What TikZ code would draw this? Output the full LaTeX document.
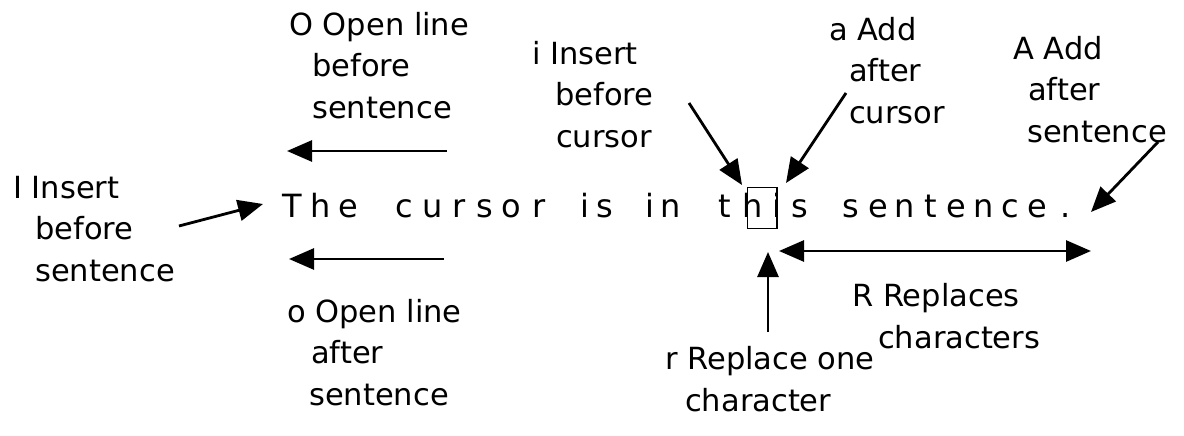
\documentclass[tikz,border=0pt]{standalone}
\usepackage{fontspec}
\setmainfont{DejaVu Sans}
\usetikzlibrary{arrows.meta}
\newcommand\cel[2]{\makebox[#1pt]{#2}}
\begin{document}
\begin{tikzpicture}[x=1pt,y=-1pt,
  lbl/.style={anchor=base west,inner sep=0pt,align=left,
    font={\fontsize{30.5}{41.5}\selectfont}},
  word/.style={anchor=base west,inner sep=0pt,
    font={\fontsize{32}{36}\selectfont}},
  arr/.style={line width=2.8pt,-{Triangle[length=25pt,width=21pt]}},
  darr/.style={line width=2.8pt,{Triangle[length=25pt,width=21pt]}-{Triangle[length=25pt,width=21pt]}},
  curbox/.style={draw,line width=1.8pt,inner sep=0pt}]
\useasboundingbox (0,0) rectangle (1184,436);
% sentence
\node[word] (w1) at (277.25,217.5) {\cel{29.5}{T}\cel{28.25}{h}\cel{27}{e}};
\node[word] (w2) at (390.5,217.5) {\cel{28}{c}\cel{27.75}{u}\cel{25.5}{r}\cel{25.75}{s}\cel{27.75}{o}\cel{27.5}{r}};
\node[word] (w3) at (574.25,217.5) {\cel{20.5}{i}\cel{20.5}{s}};
\node[word] (w4) at (639.25,217.5) {\cel{20.5}{i}\cel{20.5}{n}};
\node[word] (w5) at (709.5,217.5) {\cel{30.75}{t}\cel{25}{h}\cel{22.25}{i}\cel{25}{s}};
\node[word] (w6) at (837.25,217.5) {\cel{27.5}{s}\cel{27}{e}\cel{25.75}{n}\cel{25.75}{t}\cel{26.75}{e}\cel{26.75}{n}\cel{26.5}{c}\cel{27.75}{e}\cel{29}{.}};
% cursor box
\node[curbox,minimum width=29.5pt,minimum height=41pt] (cur) at (762.25,208) {};
% labels (anchor = baseline of last line)
\node[lbl] (lO) at (289,118) {O Open line\\\hspace*{23pt}before\\\hspace*{23pt}sentence};
\node[lbl] (lI) at (13,281) {I Insert\\\hspace*{22pt}before\\\hspace*{22pt}sentence};
\node[lbl] (lo) at (287,405) {o Open line\\\hspace*{24pt}after\\\hspace*{22pt}sentence};
\node[lbl] (li) at (532,147) {i Insert\\\hspace*{23pt}before\\\hspace*{24pt}cursor};
\node[lbl] (la) at (829,123) {a Add\\\hspace*{20pt}after\\\hspace*{20pt}cursor};
\node[lbl] (lA) at (1013,142) {A Add\\\hspace*{15pt}after\\\hspace*{14pt}sentence};
\node[lbl] (lR) at (852,348) {R Replaces\\\hspace*{26pt}characters};
\node[lbl] (lr) at (665,411) {r Replace one\\\hspace*{20pt}character};
% connector ends
\coordinate (Ot) at (447,151); \coordinate (Oh) at (287,151);
\coordinate (ot) at (444,259); \coordinate (oh) at (289,259);
\coordinate (It) at (179,226); \coordinate (Ih) at (263,204);
\coordinate (it) at (689,103); \coordinate (ih) at (742,185);
\coordinate (at) at (846,93);  \coordinate (ah) at (786,183);
\coordinate (At) at (1158,142); \coordinate (Ah) at (1091,212);
\coordinate (rt) at (768,332); \coordinate (rh) at (768,252);
\coordinate (R1) at (779,251); \coordinate (R2) at (1091,251);
\draw[arr] (Ot) -- (Oh);
\draw[arr] (ot) -- (oh);
\draw[arr] (It) -- (Ih);
\draw[arr] (it) -- (ih);
\draw[arr] (at) -- (ah);
\draw[arr] (At) -- (Ah);
\draw[arr] (rt) -- (rh);
\draw[darr] (R1) -- (R2);
\end{tikzpicture}
\end{document}
